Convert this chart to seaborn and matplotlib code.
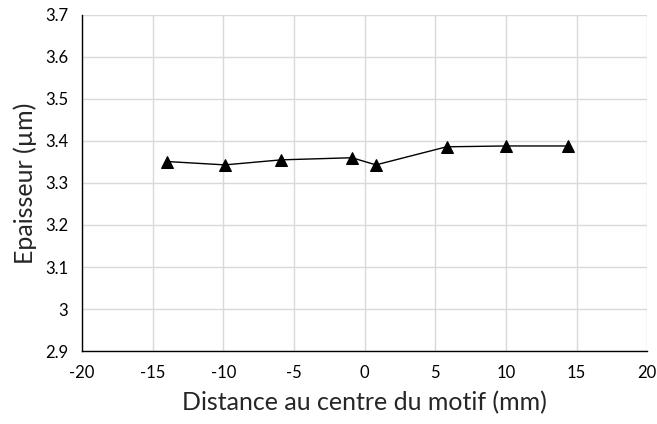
import matplotlib
matplotlib.use("Agg")
import matplotlib.pyplot as plt
import matplotlib.ticker as mticker
import seaborn as sns
import pandas as pd

# Thickness profile across the pattern
distance_mm = [-14.0, -9.9, -5.9, -0.9, 0.8, 5.8, 10.0, 14.4]
epaisseur_um = [3.351, 3.343, 3.355, 3.360, 3.343, 3.386, 3.388, 3.388]

x_ticks = [-20, -15, -10, -5, 0, 5, 10, 15, 20]
y_ticks = [2.9, 3.0, 3.1, 3.2, 3.3, 3.4, 3.5, 3.6, 3.7]

sns.set_theme(style="white")
plt.rcParams["font.family"] = ["Lato", "DejaVu Sans"]
plt.rcParams["axes.unicode_minus"] = False

df = pd.DataFrame({"x": distance_mm, "y": epaisseur_um})

fig = plt.figure(figsize=(6.57, 4.24), dpi=100)
ax = fig.add_axes([0.125, 0.172, 0.860, 0.793])

sns.lineplot(data=df, x="x", y="y", ax=ax, color="black", linewidth=1.0,
             marker="^", markersize=9, markeredgecolor="black",
             markerfacecolor="black", sort=False, zorder=3)

ax.set_xlim(-20, 20)
ax.set_ylim(2.9, 3.7)
ax.set_xticks(x_ticks)
ax.set_yticks(y_ticks)
ax.yaxis.set_major_formatter(mticker.FuncFormatter(lambda v, p: f"{v:g}"))
ax.xaxis.set_major_formatter(mticker.FuncFormatter(lambda v, p: f"{v:g}"))

ax.grid(True, color="#d9d9d9", linewidth=1.0)
ax.set_axisbelow(True)
for s in ["top", "right"]:
    ax.spines[s].set_visible(False)
for s in ["left", "bottom"]:
    ax.spines[s].set_color("black")
    ax.spines[s].set_linewidth(1.0)

ax.tick_params(axis="both", which="major", direction="out", length=4,
               width=1, color="black", labelsize=12, labelcolor="black", pad=6)

ax.set_xlabel("Distance au centre du motif (mm)", fontsize=18, labelpad=7)
ax.set_ylabel("Epaisseur (µm)", fontsize=18, labelpad=6)

fig.savefig("out.png", dpi=100)
